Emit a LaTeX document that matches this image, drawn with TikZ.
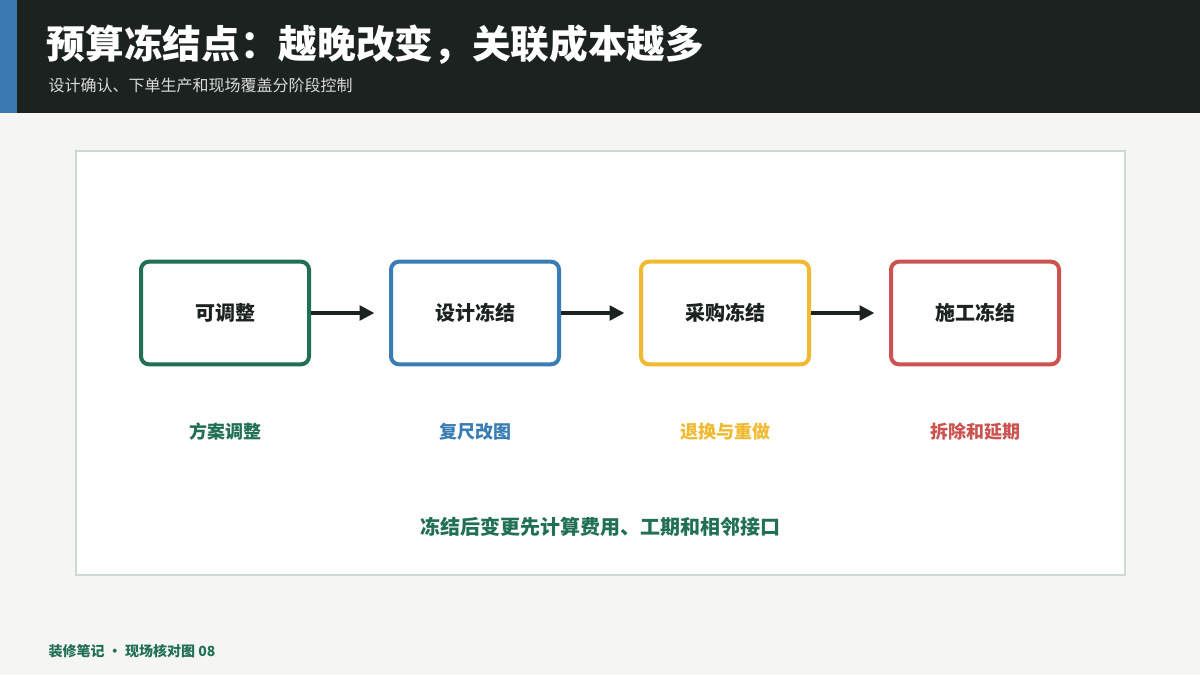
\documentclass[tikz,border=0pt]{standalone}
\usepackage{fontspec}
\setmainfont{Noto Sans CJK SC}
\usetikzlibrary{arrows.meta}
\definecolor{headbg}{HTML}{1B2220}
\definecolor{stripblue}{HTML}{3A7AB0}
\definecolor{pagebg}{HTML}{F5F5F3}
\definecolor{panelline}{HTML}{D0D8D5}
\definecolor{cgreen}{HTML}{217055}
\definecolor{cblue}{HTML}{3A7DB5}
\definecolor{cyellow}{HTML}{F0B92F}
\definecolor{cred}{HTML}{CC5450}
\definecolor{darkarrow}{HTML}{1B2220}
\tikzset{
  stage/.style={draw=#1, line width=3pt, rounded corners=6pt, fill=white,
    minimum width=126pt, minimum height=77pt, font=\bfseries\fontsize{15}{18}\selectfont, text=darkarrow},
  note/.style={text=#1, font=\bfseries\fontsize{13.5}{16}\selectfont},
  flow/.style={-{Triangle[length=11pt,width=11pt]}, line width=2.3pt, draw=darkarrow, shorten >=11pt},
}
\begin{document}
\begin{tikzpicture}[x=0.75pt,y=-0.75pt]
      \useasboundingbox (0,0) rectangle (1200,675);
      \fill [pagebg] (0,0) rectangle (1200,675);
      \fill [headbg] (0,0) rectangle (1200,113);
      \fill [stripblue] (0,0) rectangle (17,113);
      \node [anchor=west, text=white, font=\bfseries\fontsize{29}{34}\selectfont] (title) at (42,45) {预算冻结点：越晚改变，关联成本越多};
      \node [anchor=west, text=white!85!black, font=\fontsize{12}{14}\selectfont] (subtitle) at (44,85) {设计确认、下单生产和现场覆盖分阶段控制};

      \draw [panelline, line width=1.2pt, fill=white] (76,151) rectangle (1125,575);

      \node [stage=cgreen] (adjust) at (225,313) {可调整};
      \node [stage=cblue] (design) at (475,313) {设计冻结};
      \node [stage=cyellow] (buy) at (725,313) {采购冻结};
      \node [stage=cred] (build) at (975,313) {施工冻结};

      \draw [flow] (adjust) -- (design);
      \draw [flow] (design) -- (buy);
      \draw [flow] (buy) -- (build);

      \node [note=cgreen] (n1) at (225,432) {方案调整};
      \node [note=cblue] (n2) at (475,432) {复尺改图};
      \node [note=cyellow] (n3) at (725,432) {退换与重做};
      \node [note=cred] (n4) at (975,432) {拆除和延期};

      \node [text=cgreen, font=\bfseries\fontsize{15}{18}\selectfont] (rule) at (600,527) {冻结后变更先计算费用、工期和相邻接口};
      \node [anchor=west, text=cgreen, font=\bfseries\fontsize{10.5}{12}\selectfont] (footer) at (44,651) {装修笔记 • 现场核对图 08};
\end{tikzpicture}
\end{document}
